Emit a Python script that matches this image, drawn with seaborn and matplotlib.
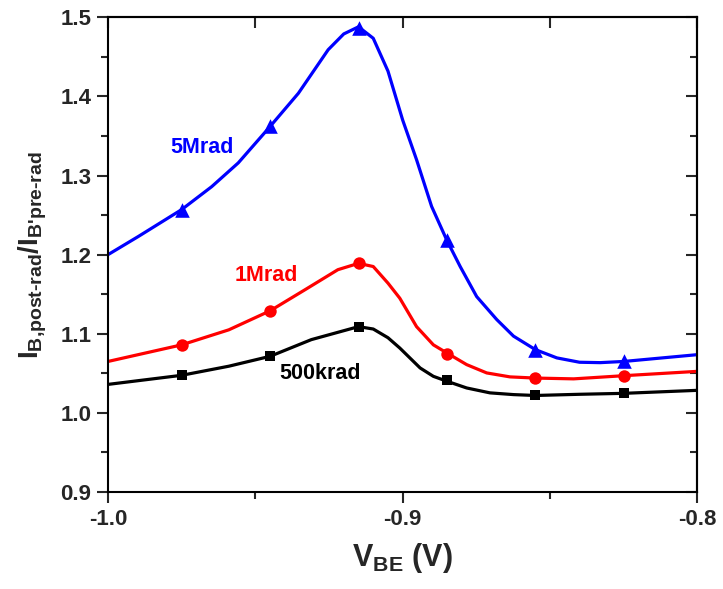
import matplotlib
matplotlib.use("Agg")
import matplotlib.pyplot as plt
import seaborn as sns
import pandas as pd
from matplotlib.ticker import MultipleLocator, FormatStrFormatter

sns.set_theme(style="ticks")
plt.rcParams['font.family'] = ['Liberation Sans', 'DejaVu Sans']
plt.rcParams['mathtext.fontset'] = 'custom'
plt.rcParams['mathtext.rm'] = 'Liberation Sans:bold'
plt.rcParams['mathtext.it'] = 'Liberation Sans:bold'
plt.rcParams['mathtext.bf'] = 'Liberation Sans:bold'

# ---- data ----
x_5m = [-1.000, -0.9897, -0.975, -0.9648, -0.9558, -0.945, -0.9354, -0.9253, -0.920, -0.915,
        -0.910, -0.905, -0.900, -0.8953, -0.8902, -0.885, -0.8805, -0.8749, -0.8681, -0.8624,
        -0.855, -0.8477, -0.840, -0.833, -0.825, -0.800]
y_5m = [1.200, 1.223, 1.257, 1.286, 1.316, 1.362, 1.404, 1.459, 1.479, 1.488,
        1.4735, 1.432, 1.370, 1.320, 1.261, 1.218, 1.185, 1.147, 1.118, 1.097,
        1.080, 1.0695, 1.064, 1.0635, 1.065, 1.0736]

x_1m = [-1.000, -0.975, -0.959, -0.945, -0.933, -0.922, -0.915, -0.910, -0.905, -0.901,
        -0.8953, -0.8896, -0.885, -0.8783, -0.8715, -0.8636, -0.855, -0.842, -0.825, -0.800]
y_1m = [1.065, 1.086, 1.105, 1.129, 1.156, 1.181, 1.189, 1.185, 1.164, 1.145,
        1.109, 1.086, 1.0757, 1.061, 1.0505, 1.0455, 1.044, 1.043, 1.047, 1.0525]

x_500k = [-1.000, -0.975, -0.959, -0.945, -0.931, -0.915, -0.910, -0.905, -0.901, -0.8941,
          -0.8896, -0.885, -0.8783, -0.8704, -0.8624, -0.855, -0.840, -0.825, -0.800]
y_500k = [1.036, 1.0475, 1.059, 1.0715, 1.0926, 1.109, 1.106, 1.095, 1.082, 1.0568,
          1.0462, 1.040, 1.0315, 1.0253, 1.0231, 1.022, 1.0235, 1.0247, 1.0285]

x_markers = [-0.975, -0.945, -0.915, -0.885, -0.855, -0.825]
m_5m = [1.257, 1.362, 1.487, 1.218, 1.080, 1.065]
m_1m = [1.086, 1.129, 1.189, 1.075, 1.044, 1.047]
m_500k = [1.0475, 1.0715, 1.109, 1.041, 1.022, 1.0245]

labels = ["5Mrad", "1Mrad", "500krad"]
colors = ["#0000FF", "#FF0000", "#000000"]

fig = plt.figure(figsize=(7.23, 5.89), dpi=100)
ax = fig.add_axes([0.1494, 0.1647, 0.8152, 0.8059])

series = [(x_5m, y_5m, m_5m, '^', 110), (x_1m, y_1m, m_1m, 'o', 80), (x_500k, y_500k, m_500k, 's', 55)]
for (xs, ys, ms, mk, sz), c in zip(series, colors):
    df = pd.DataFrame({"x": xs, "y": ys})
    sns.lineplot(data=df, x="x", y="y", ax=ax, color=c, lw=2.3, sort=False, estimator=None)
    dm = pd.DataFrame({"x": x_markers, "y": ms})
    sns.scatterplot(data=dm, x="x", y="y", ax=ax, color=c, marker=mk, s=sz, linewidth=0, zorder=5)

ax.text(-0.968, 1.335, labels[0], color=colors[0], fontsize=15.5, fontweight='bold', ha='center', va='center')
ax.text(-0.9464, 1.1733, labels[1], color=colors[1], fontsize=15.5, fontweight='bold', ha='center', va='center')
ax.text(-0.928, 1.0497, labels[2], color=colors[2], fontsize=15.5, fontweight='bold', ha='center', va='center')

ax.set_xlim(-1.0, -0.8)
ax.set_ylim(0.9, 1.5)
ax.xaxis.set_major_locator(MultipleLocator(0.1))
ax.xaxis.set_minor_locator(MultipleLocator(0.05))
ax.yaxis.set_major_locator(MultipleLocator(0.1))
ax.yaxis.set_minor_locator(MultipleLocator(0.05))
ax.xaxis.set_major_formatter(FormatStrFormatter('%.1f'))
ax.yaxis.set_major_formatter(FormatStrFormatter('%.1f'))
ax.tick_params(which='major', direction='out', length=8, width=1.5, labelsize=16, pad=4)
ax.tick_params(which='minor', direction='out', length=5, width=1.5)
for lab in ax.get_xticklabels() + ax.get_yticklabels():
    lab.set_fontweight('bold')
for sp in ax.spines.values():
    sp.set_linewidth(1.5)
    sp.set_color('black')

# mirrored inward ticks on top and right
top = ax.secondary_xaxis('top')
top.xaxis.set_major_locator(MultipleLocator(0.1))
top.xaxis.set_minor_locator(MultipleLocator(0.05))
top.tick_params(which='both', direction='in', labeltop=False, width=1.5, length=8)
right = ax.secondary_yaxis('right')
right.yaxis.set_major_locator(MultipleLocator(0.1))
right.yaxis.set_minor_locator(MultipleLocator(0.05))
right.tick_params(which='both', direction='in', labelright=False, width=1.5)
right.tick_params(which='major', length=8)
right.tick_params(which='minor', length=5)
for s in [top, right]:
    for sp in s.spines.values():
        sp.set_linewidth(1.5)

ax.set_xlabel(r'$\mathrm{V_{\text{BE}}}$ (V)', fontsize=22, fontweight='bold', labelpad=8)
ax.set_ylabel(r'$\mathrm{I_{\text{B,post-rad}}/I_{\text{B\'pre-rad}}}$', fontsize=20, labelpad=8)

fig.savefig("out.png", dpi=100)
